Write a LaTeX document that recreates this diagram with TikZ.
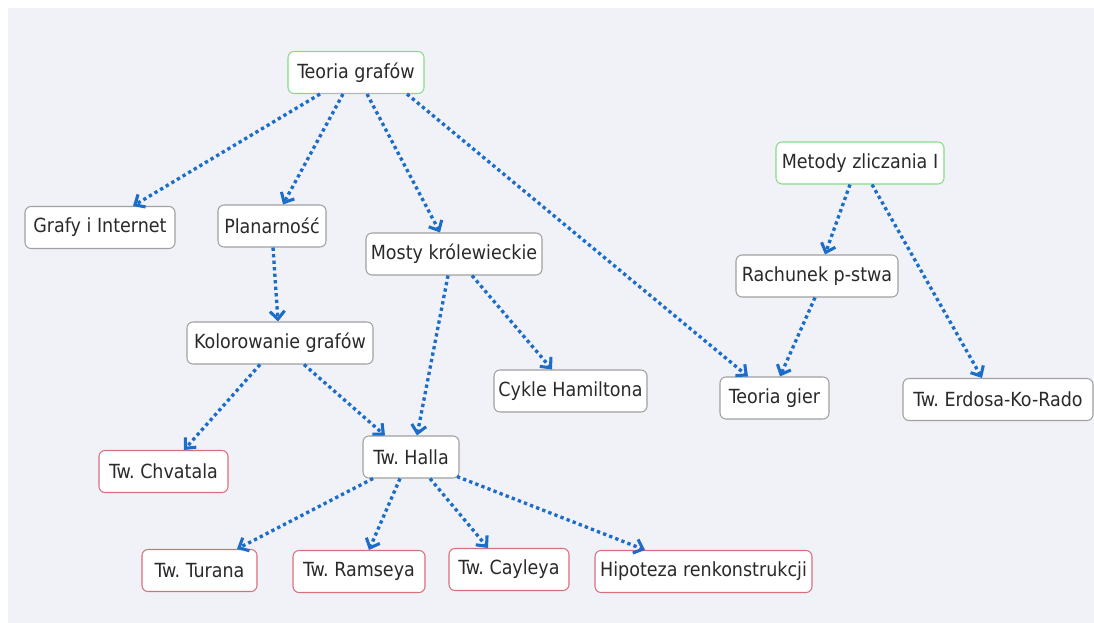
\documentclass[tikz,border=0pt]{standalone}
\usepackage{fontspec}
\setmainfont{DejaVu Sans Condensed}
\usetikzlibrary{arrows.meta,calc}
\definecolor{bgpanel}{HTML}{F1F2F8}
\definecolor{linkblue}{HTML}{1B6DC9}
\definecolor{rootgreen}{HTML}{86DC86}
\definecolor{leafred}{HTML}{D8707C}
\definecolor{topicgray}{HTML}{A0A0A0}
\definecolor{inkgray}{HTML}{2A2A2A}
\begin{document}
\frenchspacing
\begin{tikzpicture}[x=0.75pt,y=-0.75pt,
  box/.style={draw, rounded corners=4.5pt, fill=white, line width=0.8pt,
    text=inkgray, font=\fontsize{14.6}{17}\selectfont,
    minimum height=31.5pt, inner xsep=0pt, inner ysep=0pt},
  root/.style={box, draw=rootgreen},
  topic/.style={box, draw=topicgray},
  leaf/.style={box, draw=leafred},
  link/.style={draw=linkblue, line width=2.5pt, dash pattern=on 2.5pt off 2.4pt,
    -{Straight Barb[length=6pt,width=11pt,line width=2.3pt]}}
]
\useasboundingbox (0,0) rectangle (1094,623);
\fill[bgpanel] (8,8) rectangle (1094,623);

% roots
\node[root, minimum width=102pt]    (tg)  at (356,72.5)   {Teoria grafów};
\node[root, minimum width=126pt]    (mz)  at (860,163)    {Metody zliczania I};

% topics
\node[topic, minimum width=112.5pt] (gi)  at (100,227.5)  {Grafy i Internet};
\node[topic, minimum width=81pt]    (pl)  at (272,226)    {Planarność};
\node[topic, minimum width=132pt]   (mk)  at (454,254)    {Mosty królewieckie};
\node[topic, minimum width=114.75pt](ch)  at (570.5,391)  {Cykle Hamiltona};
\node[topic, minimum width=121.5pt] (rp)  at (817,276)    {Rachunek p-stwa};
\node[topic, minimum width=81.75pt] (tgi) at (774.5,398)  {Teoria gier};
\node[topic, minimum width=142.5pt] (er)  at (998,399.5)  {Tw. Erdosa-Ko-Rado};
\node[topic, minimum width=139.5pt] (kg)  at (280,343)    {Kolorowanie grafów};
\node[topic, minimum width=72pt]    (th)  at (411,457)    {Tw. Halla};

% theorems
\node[leaf, minimum width=96.75pt]  (tc)  at (163.5,471.5){Tw. Chvatala};
\node[leaf, minimum width=86.25pt]  (tt)  at (199.5,570.5){Tw. Turana};
\node[leaf, minimum width=99pt]     (tr)  at (359,571.5)  {Tw. Ramseya};
\node[leaf, minimum width=90pt]     (tcy) at (509,569.5)  {Tw. Cayleya};
\node[leaf, minimum width=162.75pt] (hr)  at (703.5,571.5){Hipoteza renkonstrukcji};

% links
\draw[link] ($(tg.south)+(-36,0)$)  -- ($(gi.north)+(33,0)$);
\draw[link] ($(tg.south)+(-13,0)$)  -- ($(pl.north)+(11,0)$);
\draw[link] ($(tg.south)+(11,0)$)   -- ($(mk.north)+(-14,0)$);
\draw[link] ($(tg.south)+(51,0)$)   -- ($(tgi.north)+(-26.5,0)$);
\draw[link] ($(pl.south)+(1,0)$)    -- ($(kg.north)+(-2,0)$);
\draw[link] ($(mk.south)+(-6,0)$)   -- ($(th.north)+(6,0)$);
\draw[link] ($(mk.south)+(18,0)$)   -- ($(ch.north)+(-18.5,0)$);
\draw[link] ($(kg.south)+(-20,0)$)  -- ($(tc.north)+(20.5,0)$);
\draw[link] ($(kg.south)+(24,0)$)   -- ($(th.north)+(-26,0)$);
\draw[link] ($(mz.south)+(-10,0)$)  -- ($(rp.north)+(8,0)$);
\draw[link] ($(mz.south)+(12,0)$)   -- ($(er.north)+(-16,0)$);
\draw[link] ($(rp.south)+(-2,0)$)   -- ($(tgi.north)+(5.5,0)$);
\draw[link] ($(th.south)+(-38,0)$)  -- ($(tt.north)+(37.5,0)$);
\draw[link] ($(th.south)+(-11,0)$)  -- ($(tr.north)+(10,0)$);
\draw[link] ($(th.south)+(19,0)$)   -- ($(tcy.north)+(-21,0)$);
\draw[link] ($(th.south)+(46,-2)$)  -- ($(hr.north)+(-58.5,0)$);
\end{tikzpicture}
\end{document}
